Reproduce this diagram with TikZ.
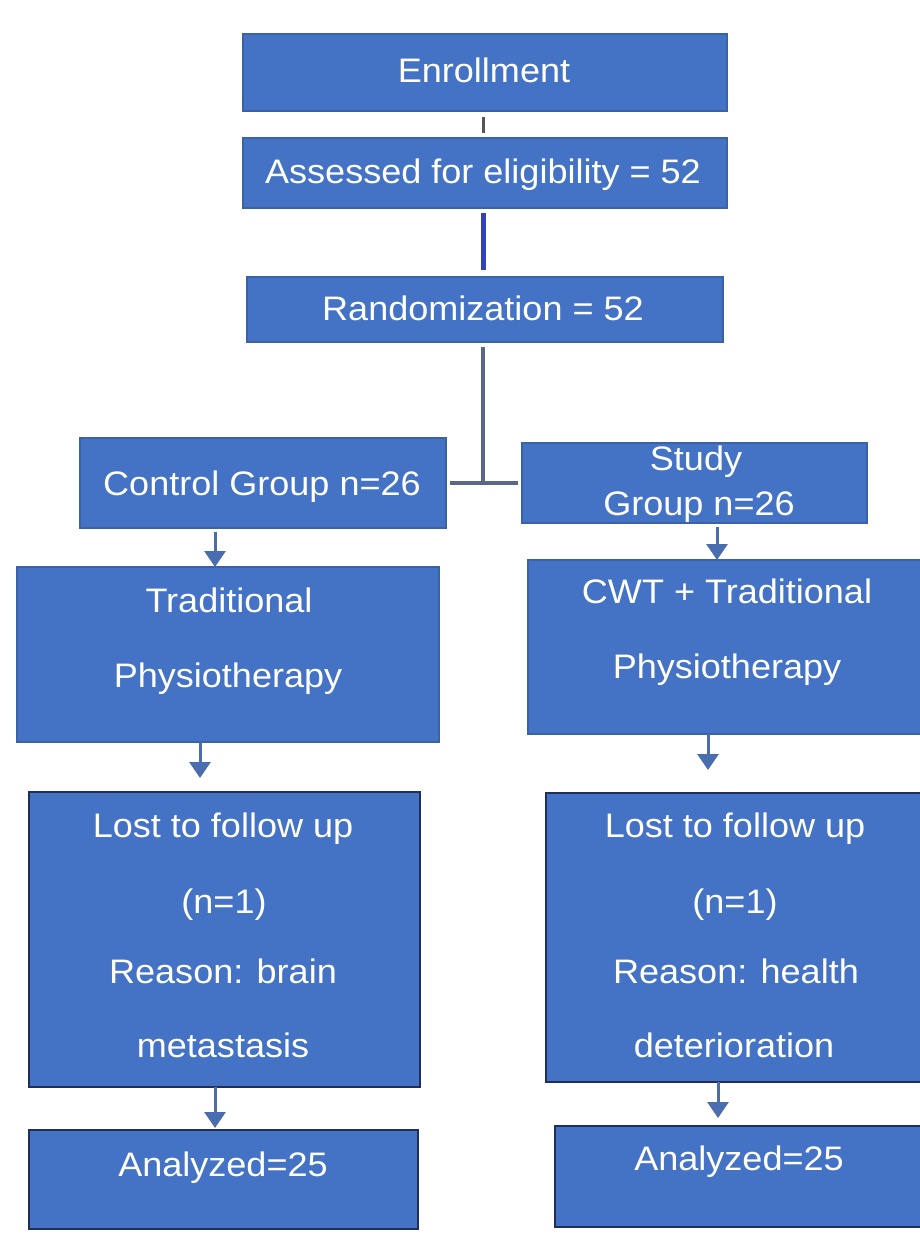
\documentclass[tikz,border=0pt]{standalone}
\usepackage{fontspec}
\setmainfont{Liberation Sans}[FakeStretch=1.06]
\usetikzlibrary{arrows.meta}
\definecolor{boxfill}{HTML}{4472C4}
\definecolor{boxedge}{HTML}{3A62A8}
\definecolor{darkedge}{HTML}{1F2F5A}
\definecolor{arrowc}{HTML}{4A6DAF}
\definecolor{splitc}{HTML}{5B6785}
\definecolor{tickc}{HTML}{555555}
\definecolor{bluelink}{HTML}{3343B5}
\tikzset{
  box/.style={draw=boxedge, fill=boxfill, line width=1.2pt, inner sep=0pt, outer sep=0pt},
  darkbox/.style={box, draw=darkedge, line width=2.5pt},
  txt/.style={text=white, font=\fontsize{34}{40}\selectfont, inner sep=0pt, anchor=base},
  arr/.style={draw=arrowc, line width=3pt, -{Triangle[width=21pt,length=16pt]}},
  conn/.style={draw=splitc, line width=4pt},
}
\begin{document}
\begin{tikzpicture}[x=1pt,y=-1pt]
\fill[white] (0,0) rectangle (920,1234);
\useasboundingbox (0,0) rectangle (920,1234);
\clip (0,0) rectangle (920,1234);

% boxes
\node[box, minimum width=484pt, minimum height=77pt] (enr) at (485,72.5) {};
\node[box, minimum width=484pt, minimum height=70pt] (ass) at (485,173) {};
\node[box, minimum width=476pt, minimum height=65pt] (ran) at (485,309.5) {};
\node[box, minimum width=366pt, minimum height=90pt] (ctl) at (263,483) {};
\node[box, minimum width=345pt, minimum height=80pt] (stu) at (694.5,483) {};
\node[box, minimum width=422pt, minimum height=175pt] (trad) at (228,654.5) {};
\node[box, minimum width=398pt, minimum height=174pt] (cwt) at (727,647) {};
\node[darkbox, minimum width=391pt, minimum height=295pt] (lostL) at (224.5,939.5) {};
\node[darkbox, minimum width=378pt, minimum height=289pt] (lostR) at (735,937.5) {};
\node[darkbox, minimum width=389pt, minimum height=99pt] (anaL) at (223.5,1179.5) {};
\node[darkbox, minimum width=368pt, minimum height=101pt] (anaR) at (739,1176.5) {};

% texts
\node[txt] (t1) at (484,82) {Enrollment};
\node[txt] (t2) at (483,183) {Assessed for eligibility = 52};
\node[txt] (t3) at (483,320) {Randomization = 52};
\node[txt] (t4) at (262,495) {Control Group n=26};
\node[txt] (t5) at (696,470) {Study};
\node[txt] (t6) at (699,515) {Group n=26};
\node[txt] (t7) at (229,612) {Traditional};
\node[txt] (t8) at (228,687) {Physiotherapy};
\node[txt] (t9) at (727,603) {CWT + Traditional};
\node[txt] (t10) at (727,678) {Physiotherapy};
\node[txt] (t11) at (223,837) {Lost to follow up};
\node[txt] (t12) at (224,913) {(n=1)};
\node[txt] (t13) at (223,983) {Reason: brain};
\node[txt] (t14) at (223,1057) {metastasis};
\node[txt] (t15) at (735,837) {Lost to follow up};
\node[txt] (t16) at (735,913) {(n=1)};
\node[txt] (t17) at (736,983) {Reason: health};
\node[txt] (t18) at (734,1057) {deterioration};
\node[txt] (t19) at (223,1176) {Analyzed=25};
\node[txt] (t20) at (739,1170) {Analyzed=25};

% helper x positions
\coordinate (xm) at (483,0);
\coordinate (xa) at (215,0);
\coordinate (xb) at (200,0);
\coordinate (xc) at (717,0);
\coordinate (xd) at (708,0);
\coordinate (xf) at (718,0);
\coordinate (split) at (483,483);

% connectors
\draw[draw=tickc, line width=3pt] ([yshift=-6pt]enr.south -| xm) -- ([yshift=5pt]ass.north -| xm);
\draw[draw=bluelink, line width=5pt] ([yshift=-5pt]ass.south -| xm) -- ([yshift=7pt]ran.north -| xm);
\draw[conn] ([yshift=-5pt]ran.south -| xm) -- (split);
\draw[conn] ([xshift=4pt]ctl.east) -- ([xshift=-4pt]stu.west);

\draw[arr] ([yshift=-4pt]ctl.south -| xa) -- (trad.north -| xa);
\draw[arr, shorten >=14pt] (trad.south -| xb) -- (lostL.north -| xb);
\draw[arr] ([yshift=-4pt]stu.south -| xc) -- (cwt.north -| xc);
\draw[arr, shorten >=23pt] (cwt.south -| xd) -- (lostR.north -| xd);
\draw[arr, shorten >=2pt] (lostL.south -| xa) -- (anaL.north -| xa);
\draw[arr, shorten >=8pt] (lostR.south -| xf) -- (anaR.north -| xf);
\end{tikzpicture}
\end{document}
